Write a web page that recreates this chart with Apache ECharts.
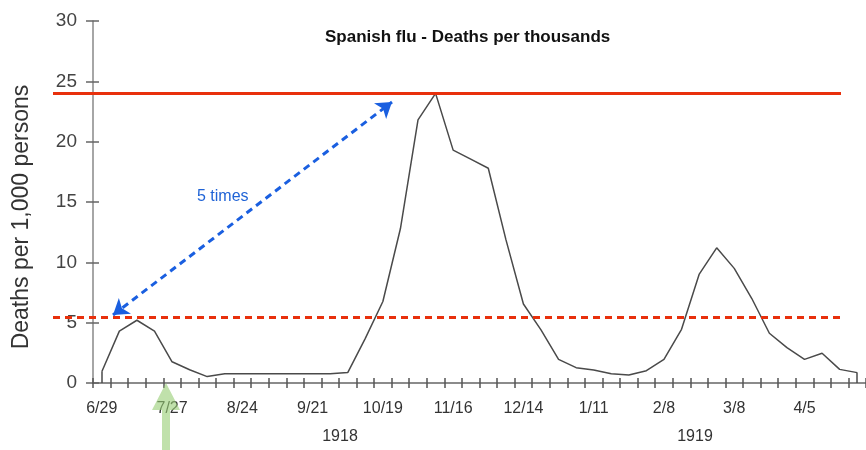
<!DOCTYPE html>
<html>
<head>
<meta charset="utf-8">
<style>
  html, body { margin: 0; padding: 0; background: #fff; }
  #chart { width: 866px; height: 450px; }
</style>
<script src="https://cdn.jsdelivr.net/npm/echarts@6/dist/echarts.min.js"></script>
</head>
<body>
<div id="chart"></div>
<script>
// weekly deaths per 1,000, from 6/29/1918
const weeks = [
  '6/29', '7/6', '7/13', '7/20', '7/27', '8/3', '8/10', '8/17', '8/24', '8/31', '9/7',
  '9/14', '9/21', '9/28', '10/5', '10/12', '10/19', '10/26', '11/2', '11/9', '11/16',
  '11/23', '11/30', '12/7', '12/14', '12/21', '12/28', '1/4', '1/11', '1/18', '1/25',
  '2/1', '2/8', '2/15', '2/22', '3/1', '3/8', '3/15', '3/22', '3/29', '4/5', '4/12',
  '4/19', '4/26'
]
const deaths = [
  0.93, 4.3, 5.2, 4.3, 1.76, 1.1, 0.53, 0.76, 0.76, 0.76, 0.76,
  0.76, 0.76, 0.76, 0.86, 3.7, 6.75, 12.8, 21.8, 24.0, 19.3,
  18.55, 17.8, 11.9, 6.55, 4.4, 1.96, 1.27, 1.08, 0.76, 0.66,
  1.02, 1.96, 4.45, 9.0, 11.2, 9.5, 7.0, 4.12, 2.93, 1.96, 2.46,
  1.13, 0.86
]
const peakLevel = 24
const earlyLevel = 5.45
const yearLabels = ['1918', '1919']

const chart = echarts.init(document.getElementById('chart'))
const font = 'Liberation Sans, Arial, sans-serif'

const option = {
  animation: false,
  title: {
    text: 'Spanish flu - Deaths per thousands',
    left: 320,
    top: 24,
    textStyle: { fontFamily: font, fontSize: 17, fontWeight: 'bold', color: '#111' }
  },
  grid: { left: 93, right: 0, top: 21, bottom: 67 },
  xAxis: [
    {
      type: 'category',
      data: weeks,
      boundaryGap: true,
      axisLine: { lineStyle: { color: '#666', width: 1.5 } },
      axisTick: { show: true, length: 5, interval: 0, lineStyle: { color: '#555', width: 1.5 } },
      axisLabel: { interval: 3, margin: 18, fontFamily: font, fontSize: 16, color: '#333' }
    },
    {
      // upper half of the crossing ticks
      type: 'category',
      data: weeks,
      position: 'bottom',
      offset: -5,
      boundaryGap: true,
      axisLine: { show: false },
      axisTick: { show: true, length: 5, interval: 0, lineStyle: { color: '#555', width: 1.5 } },
      axisLabel: { show: false }
    }
  ],
  yAxis: [
    {
      type: 'value',
      min: 0,
      max: 30,
      interval: 5,
      splitLine: { show: false },
      axisLine: { show: true, lineStyle: { color: '#888', width: 1.5 } },
      axisTick: { show: true, length: 7, lineStyle: { color: '#666', width: 1.5 } },
      axisLabel: { margin: 16, fontFamily: font, fontSize: 19, color: '#444' }
    },
    {
      type: 'value',
      min: 0,
      max: 30,
      interval: 5,
      position: 'left',
      offset: -6,
      splitLine: { show: false },
      axisLine: { show: false },
      axisTick: { show: true, length: 6, lineStyle: { color: '#666', width: 1.5 } },
      axisLabel: { show: false }
    }
  ],
  series: [
    {
      type: 'line',
      data: deaths,
      symbol: 'none',
      lineStyle: { color: '#4a4a4a', width: 1.5 },
      silent: true
    }
  ],
  graphic: [
    {
      type: 'text',
      x: 22,
      y: 217,
      rotation: Math.PI / 2,
      style: { text: 'Deaths per 1,000 persons', font: '23px ' + font, fill: '#333', align: 'center', verticalAlign: 'middle' }
    },
    {
      type: 'text',
      left: 197,
      top: 189,
      style: { text: '5 times', font: '16px ' + font, fill: '#1f63d6' }
    },
    {
      type: 'text',
      x: 340,
      y: 437,
      style: { text: yearLabels[0], font: '16px ' + font, fill: '#333', align: 'center', verticalAlign: 'middle' }
    },
    {
      type: 'text',
      x: 695,
      y: 437,
      style: { text: yearLabels[1], font: '16px ' + font, fill: '#333', align: 'center', verticalAlign: 'middle' }
    },
    {
      type: 'polygon',
      shape: {
        points: [[166, 383], [180, 410], [170, 410], [170, 450], [162, 450], [162, 410], [152, 410]]
      },
      style: { fill: 'rgba(150, 205, 115, 0.6)' },
      z: 100
    }
  ]
}
chart.setOption(option)

// horizontal reference lines run left past the axis, so place them in pixels
const yPeak = chart.convertToPixel({ yAxisIndex: 0 }, peakLevel)
const yEarly = chart.convertToPixel({ yAxisIndex: 0 }, earlyLevel)

chart.setOption({
  series: [
    {
      markLine: {
        silent: true,
        symbol: 'none',
        label: { show: false },
        emphasis: { disabled: true },
        data: [
          [{ coord: [0, 0], lineStyle: { color: '#4a4a4a', width: 1.5, type: 'solid' } }, { coord: [0, deaths[0]] }],
          [{ coord: [weeks.length - 1, 0], lineStyle: { color: '#4a4a4a', width: 1.5, type: 'solid' } }, { coord: [weeks.length - 1, deaths[deaths.length - 1]] }],
          [{ x: 53, y: yPeak, lineStyle: { color: '#e8300c', width: 3, type: 'solid' } }, { x: 841, y: yPeak }],
          [{ x: 53, y: yEarly, lineStyle: { color: '#e8300c', width: 3, type: [7, 5] } }, { x: 841, y: yEarly }],
          [
            { x: 113, y: 315, symbol: 'arrow', symbolSize: 15, lineStyle: { color: '#1a5fe0', width: 3, type: [7, 5] } },
            { x: 392, y: 102, symbol: 'arrow', symbolSize: 15 }
          ]
        ]
      }
    }
  ]
})
</script>
</body>
</html>
